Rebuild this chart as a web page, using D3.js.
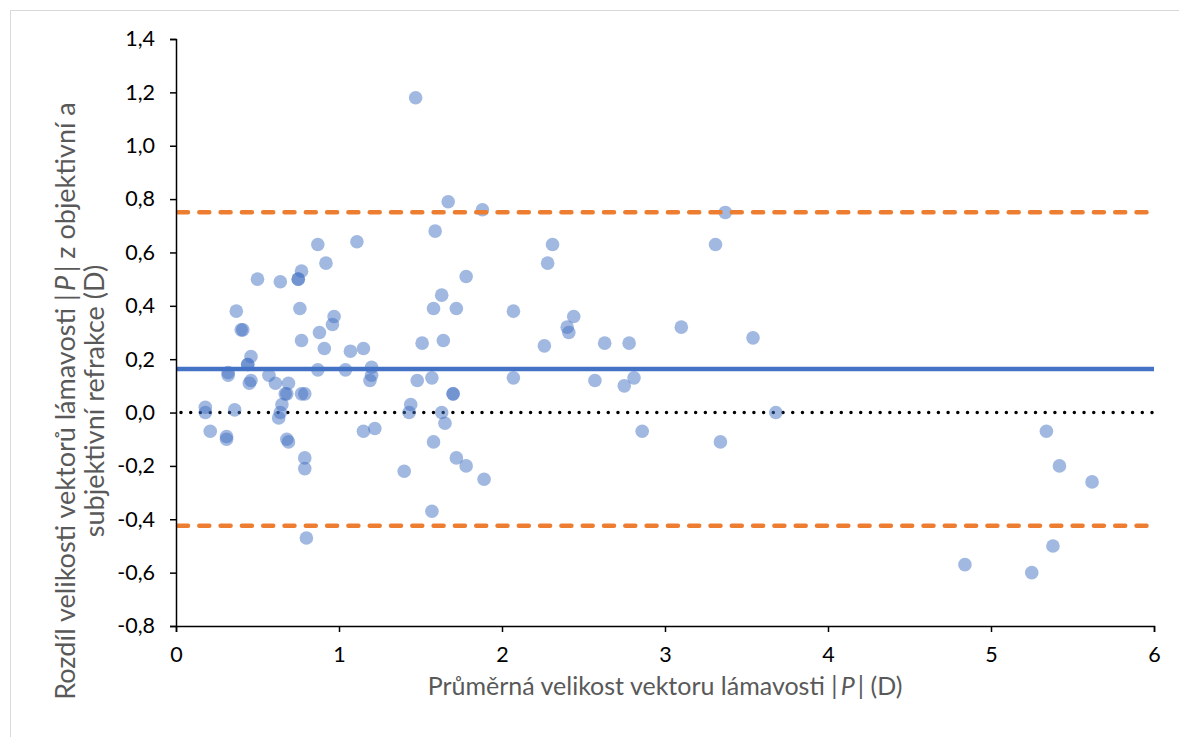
<!DOCTYPE html>
<html>
<head>
<meta charset="utf-8">
<script src="https://cdn.jsdelivr.net/npm/d3@7"></script>
<style>
  body { margin: 0; background: #fff; }
  svg { display: block; font-family: Lato, "Open Sans", sans-serif; }
</style>
</head>
<body>
<div id="chart"></div>
<script>
// Bland-Altman data: mean |P| (x) and difference of |P| (y)
const meanP = [
  0.18, 0.18, 0.21, 0.31, 0.31, 0.32, 0.32, 0.36, 0.37, 0.40, 0.41, 0.44, 0.44, 0.46, 0.46, 0.45,
  0.50, 0.57, 0.61, 0.63, 0.64, 0.65, 0.64, 0.67, 0.68, 0.68, 0.69, 0.69, 0.75, 0.75, 0.76, 0.77,
  0.77, 0.77, 0.79, 0.79, 0.79, 0.80, 0.87, 0.87, 0.88, 0.91, 0.92, 0.96, 0.97, 1.04, 1.07, 1.11,
  1.15, 1.15, 1.19, 1.20, 1.20, 1.22, 1.40, 1.43, 1.44, 1.47, 1.48, 1.51, 1.57, 1.58, 1.57, 1.58,
  1.59, 1.63, 1.63, 1.64, 1.65, 1.67, 1.70, 1.70, 1.72, 1.72, 1.78, 1.78, 1.88, 1.89, 2.07, 2.07,
  2.26, 2.28, 2.31, 2.40, 2.41, 2.44, 2.57, 2.63, 2.75, 2.78, 2.81, 2.86, 3.10, 3.31, 3.34, 3.37,
  3.54, 3.68, 4.84, 5.25, 5.34, 5.38, 5.42, 5.62
];
const diffP = [
  0.02, 0.00, -0.07, -0.10, -0.09, 0.14, 0.15, 0.01, 0.38, 0.31, 0.31, 0.18, 0.18, 0.21, 0.12, 0.11,
  0.50, 0.14, 0.11, -0.02, 0.00, 0.03, 0.49, 0.07, 0.07, -0.10, -0.11, 0.11, 0.50, 0.50, 0.39, 0.53,
  0.27, 0.07, 0.07, -0.17, -0.21, -0.47, 0.16, 0.63, 0.30, 0.24, 0.56, 0.33, 0.36, 0.16, 0.23, 0.64,
  -0.07, 0.24, 0.12, 0.17, 0.14, -0.06, -0.22, 0.00, 0.03, 1.18, 0.12, 0.26, 0.13, -0.11, -0.37, 0.39,
  0.68, 0.44, 0.00, 0.27, -0.04, 0.79, 0.07, 0.07, 0.39, -0.17, -0.20, 0.51, 0.76, -0.25, 0.38, 0.13,
  0.25, 0.56, 0.63, 0.32, 0.30, 0.36, 0.12, 0.26, 0.10, 0.26, 0.13, -0.07, 0.32, 0.63, -0.11, 0.75,
  0.28, 0.00, -0.57, -0.60, -0.07, -0.50, -0.20, -0.26
];

// mean difference and limits of agreement
const meanDiff = 0.163;
const upperLoA = 0.751;
const lowerLoA = -0.424;

const xTicks = [0, 1, 2, 3, 4, 5, 6];
const yTicks = [1.4, 1.2, 1.0, 0.8, 0.6, 0.4, 0.2, 0.0, -0.2, -0.4, -0.6, -0.8];

const xTitle = "Průměrná velikost vektoru lámavosti |P| (D)";
const yTitle1 = "Rozdíl velikosti vektorů lámavosti |P| z objektivní a";
const yTitle2 = "subjektivní refrakce (D)";

const width = 1179, height = 737;
const plot = { left: 176, right: 1154, top: 39, bottom: 626 };

const svg = d3.select("#chart").append("svg")
  .attr("width", width)
  .attr("height", height);

// light frame around the chart
svg.append("rect")
  .attr("x", 10.5).attr("y", 10.5)
  .attr("width", 1300).attr("height", 900)
  .attr("fill", "none")
  .attr("stroke", "#d9d9d9")
  .attr("stroke-width", 1);

const x = d3.scaleLinear().domain([0, 6]).range([plot.left, plot.right]);
const y = d3.scaleLinear().domain([-0.8, 1.4]).range([plot.bottom, plot.top]);

const fmt = d => d3.format(".1f")(d).replace(".", ",").replace("−", "-");

// zero reference line (dotted)
svg.append("line")
  .attr("x1", x(0) + 5).attr("x2", x(6))
  .attr("y1", y(0)).attr("y2", y(0))
  .attr("stroke", "#000")
  .attr("stroke-width", 3.5)
  .attr("stroke-linecap", "round")
  .attr("stroke-dasharray", "0.01 9.7");

// points
const pts = meanP.map((m, i) => ({ m: m, d: diffP[i] }));
svg.append("g").selectAll("circle")
  .data(pts)
  .enter()
  .append("circle")
  .attr("cx", d => x(d.m))
  .attr("cy", d => y(d.d))
  .attr("r", 6.8)
  .attr("fill", "#4472C4")
  .attr("fill-opacity", 0.5);

// limits of agreement (orange dashed)
[upperLoA, lowerLoA].forEach(v => {
  svg.append("line")
    .attr("x1", x(0) + 2).attr("x2", x(6) - 2)
    .attr("y1", y(v)).attr("y2", y(v))
    .attr("stroke", "#ED7D31")
    .attr("stroke-width", 4.5)
    .attr("stroke-linecap", "round")
    .attr("stroke-dasharray", "10 11.3");
});

// mean difference (solid blue)
svg.append("line")
  .attr("x1", x(0)).attr("x2", x(6))
  .attr("y1", y(meanDiff)).attr("y2", y(meanDiff))
  .attr("stroke", "#4472C4")
  .attr("stroke-width", 4.5);

// axes
const yAxis = svg.append("g")
  .attr("transform", `translate(${plot.left},0)`)
  .call(d3.axisLeft(y).tickValues(yTicks).tickFormat(fmt).tickSize(6).tickPadding(15));

const xAxis = svg.append("g")
  .attr("transform", `translate(0,${plot.bottom})`)
  .call(d3.axisBottom(x).tickValues(xTicks).tickFormat(d3.format("d")).tickSize(6).tickPadding(15));

[yAxis, xAxis].forEach(ax => {
  ax.select(".domain").attr("stroke", "#000").attr("stroke-width", 1.5);
  ax.selectAll(".tick line").attr("stroke", "#000").attr("stroke-width", 1.5);
  ax.selectAll(".tick text")
    .attr("fill", "#000")
    .style("font-size", "21.5px")
    .style("font-family", "Lato, 'Open Sans', sans-serif");
});

// axis titles with italic P (small gaps round the P like the original)
function titleText(sel, str) {
  const parts = str.split("|P|");
  sel.append("tspan").text(parts[0] + "|\u2009");
  if (parts.length > 1) {
    sel.append("tspan").attr("font-style", "italic").text("P");
    sel.append("tspan").text("\u2009|" + parts[1]);
  }
}

const xt = svg.append("text")
  .attr("x", (plot.left + plot.right) / 2)
  .attr("y", 695)
  .attr("text-anchor", "middle")
  .attr("fill", "#595959")
  .style("font-size", "25px");
titleText(xt, xTitle);

const yt1 = svg.append("text")
  .attr("transform", "translate(75,401) rotate(-90)")
  .attr("text-anchor", "middle")
  .attr("fill", "#595959")
  .style("font-size", "27px");
titleText(yt1, yTitle1);

svg.append("text")
  .attr("transform", "translate(104,401) rotate(-90)")
  .attr("text-anchor", "middle")
  .attr("fill", "#595959")
  .style("font-size", "27px")
  .text(yTitle2);
</script>
</body>
</html>
